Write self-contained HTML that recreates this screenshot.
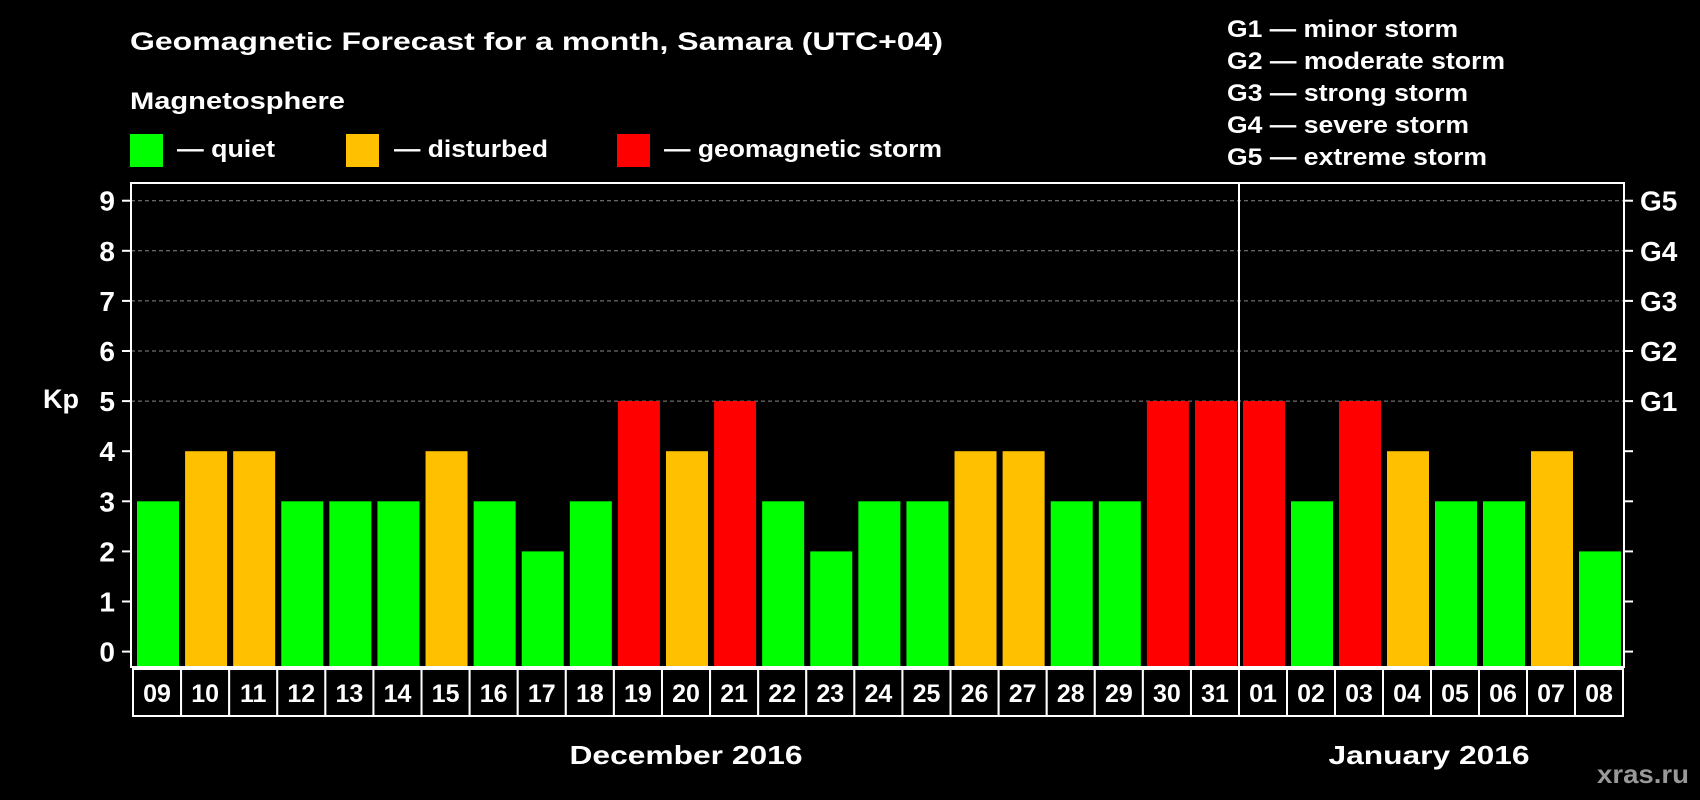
<!DOCTYPE html>
<html><head><meta charset="utf-8"><style>
html,body{margin:0;padding:0;background:#000;}
svg{display:block;font-family:"Liberation Sans",Arial,sans-serif;font-weight:bold;}
</style></head><body>
<svg id="chart" width="1700" height="800" viewBox="0 0 1700 800">
<rect x="0" y="0" width="1700" height="800" fill="#000"/>
<text x="130" y="50" fill="#fff" font-size="25" textLength="813" lengthAdjust="spacingAndGlyphs">Geomagnetic Forecast for a month, Samara (UTC+04)</text>
<text x="130" y="109" fill="#fff" font-size="24" textLength="215" lengthAdjust="spacingAndGlyphs">Magnetosphere</text>
<g>
<rect x="130" y="134" width="33" height="33" fill="#00ff00"/>
<text x="177" y="157" fill="#fff" font-size="24" textLength="98" lengthAdjust="spacingAndGlyphs">— quiet</text>
</g>
<g>
<rect x="346" y="134" width="33" height="33" fill="#ffc000"/>
<text x="394" y="157" fill="#fff" font-size="24" textLength="154" lengthAdjust="spacingAndGlyphs">— disturbed</text>
</g>
<g>
<rect x="617" y="134" width="33" height="33" fill="#ff0000"/>
<text x="664" y="157" fill="#fff" font-size="24" textLength="278" lengthAdjust="spacingAndGlyphs">— geomagnetic storm</text>
</g>
<g fill="#fff" font-size="24">
<text x="1227" y="37" textLength="231" lengthAdjust="spacingAndGlyphs">G1 — minor storm</text>
<text x="1227" y="69" textLength="278" lengthAdjust="spacingAndGlyphs">G2 — moderate storm</text>
<text x="1227" y="101" textLength="241" lengthAdjust="spacingAndGlyphs">G3 — strong storm</text>
<text x="1227" y="133" textLength="242" lengthAdjust="spacingAndGlyphs">G4 — severe storm</text>
<text x="1227" y="165" textLength="260" lengthAdjust="spacingAndGlyphs">G5 — extreme storm</text>
</g>
<text x="43" y="408" fill="#fff" font-size="27">Kp</text>
<g id="grid"></g>
<g id="bars"></g>
<g id="axes"></g>
<g id="labels"></g>
<text x="686" y="764" fill="#fff" font-size="26" text-anchor="middle" textLength="233" lengthAdjust="spacingAndGlyphs">December 2016</text>
<text x="1429" y="764" fill="#fff" font-size="26" text-anchor="middle" textLength="201" lengthAdjust="spacingAndGlyphs">January 2016</text>
<text x="1689" y="783" fill="#999" font-size="26" text-anchor="end" textLength="92" lengthAdjust="spacingAndGlyphs">xras.ru</text>
</svg>
<script>
const days = ["09","10","11","12","13","14","15","16","17","18","19","20","21","22","23","24","25","26","27","28","29","30","31","01","02","03","04","05","06","07","08"];
const kpValues = [3,4,4,3,3,3,4,3,2,3,5,4,5,3,2,3,3,4,4,3,3,5,5,5,3,5,4,3,3,4,2];
const yTicks = [0,1,2,3,4,5,6,7,8,9];
const gLabels = ["","","","","","G1","G2","G3","G4","G5"];
const decCount = 23;

const NS = "http://www.w3.org/2000/svg";
const plotL = 131, plotR = 1624, plotT = 183, plotB = 667;
const y0 = 651.6, unit = 50.1;
function yScale(v){ return y0 - v*unit; }
function slotX(i){ return i < decCount ? 133 + i*48.09 : 1239 + (i-decCount)*48; }
function slotW(i){ return i < decCount ? 48.09 : 48; }
function colorFor(v){ return v >= 5 ? "#ff0000" : (v >= 4 ? "#ffc000" : "#00ff00"); }
function mk(tag, attrs, parent){
  const el = document.createElementNS(NS, tag);
  for (const k in attrs) el.setAttribute(k, attrs[k]);
  parent.appendChild(el);
  return el;
}
const grid = document.getElementById("grid");
const bars = document.getElementById("bars");
const axes = document.getElementById("axes");
const labels = document.getElementById("labels");

yTicks.forEach(function(t){
  const y = yScale(t);
  if (t >= 5) {
    const g = mk("line", {x1: plotL, x2: plotR, y1: y, y2: y, stroke: "#888", "stroke-width": 1, "stroke-dasharray": "4,3"}, grid);
    
    
  }
  const tl = mk("line", {x1: plotL-9, x2: plotL, y1: y, y2: y, stroke: "#fff", "stroke-width": 2}, axes);
  
  
  const tr = mk("line", {x1: plotR, x2: plotR+9, y1: y, y2: y, stroke: "#fff", "stroke-width": 2}, axes);
  
  
  const lab = mk("text", {x: 115, y: y+10, fill: "#fff", "font-size": 28, "text-anchor": "end"}, axes);
  lab.textContent = String(t);
  
  
  if (gLabels[t]) {
    const gl = mk("text", {x: 1640, y: y+10, fill: "#fff", "font-size": 28}, axes);
    gl.textContent = gLabels[t];
    
    
  }
});

kpValues.forEach(function(v, i){
  const x = slotX(i) + 4;
  const top = yScale(v);
  const r = mk("rect", {x: x, y: top, width: 42, height: plotB - 1 - top, fill: colorFor(v)}, bars);
  
  
});

const frame = mk("rect", {x: plotL, y: plotT, width: plotR-plotL, height: plotB-plotT, fill: "none", stroke: "#fff", "stroke-width": 2}, axes);


const sepX = slotX(decCount);
const sep = mk("line", {x1: sepX, x2: sepX, y1: plotT, y2: plotB, stroke: "#fff", "stroke-width": 2}, axes);



days.forEach(function(d, i){
  const x = slotX(i), w = slotW(i);
  const b = mk("rect", {x: x, y: 669, width: w, height: 47, fill: "#000", stroke: "#fff", "stroke-width": 2}, labels);
  
  
  const t = mk("text", {x: x + w/2, y: 702, fill: "#fff", "font-size": 25, "text-anchor": "middle"}, labels);
  t.textContent = d;
  
  
});
</script>
</body></html>
